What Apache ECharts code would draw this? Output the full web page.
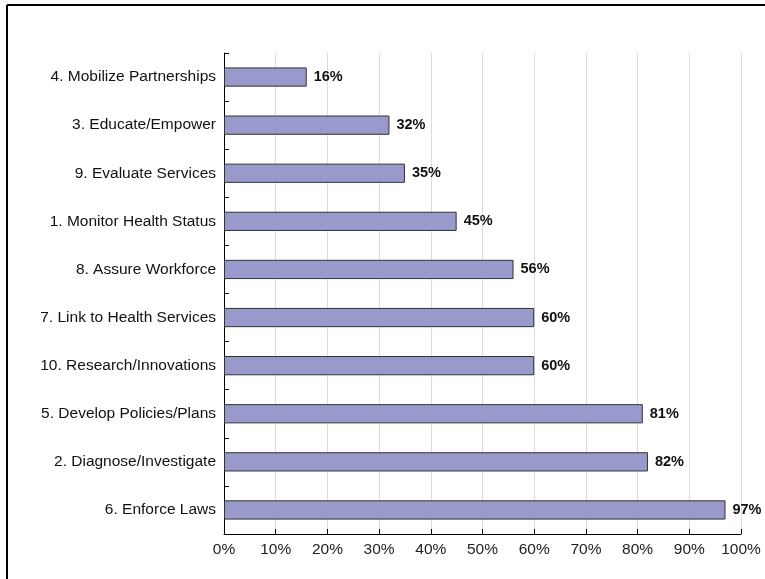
<!DOCTYPE html>
<html><head><meta charset="utf-8">
<script src="https://cdn.jsdelivr.net/npm/echarts@6/dist/echarts.min.js"></script>
<style>html,body{margin:0;padding:0;background:#fff}#c{width:765px;height:579px}</style>
</head><body><div id="c"></div>
<script>
const categories = ["4. Mobilize Partnerships","3. Educate/Empower","9. Evaluate Services","1. Monitor Health Status","8. Assure Workforce","7. Link to Health Services","10. Research/Innovations","5. Develop Policies/Plans","2. Diagnose/Investigate","6. Enforce Laws"];
const values = [16,32,35,45,56,60,60,81,82,97];
const xTicks = [0,10,20,30,40,50,60,70,80,90,100];

const chart = echarts.init(document.getElementById('c'));
chart.setOption({
  animation:false,
  textStyle:{fontFamily:'Liberation Sans, Arial, sans-serif'},
  grid:{left:224,right:24,top:53,bottom:45,containLabel:false},
  graphic:[
    {type:'line',shape:{x1:7,y1:5,x2:765,y2:5},style:{stroke:'#000',lineWidth:2}},
    {type:'line',shape:{x1:7,y1:5,x2:7,y2:579},style:{stroke:'#000',lineWidth:2}}
  ],
  xAxis:{type:'value',min:xTicks[0],max:xTicks[xTicks.length-1],interval:10,
    axisLine:{show:true,lineStyle:{color:'#000',width:1}},
    axisTick:{show:true,inside:true,length:5,lineStyle:{color:'#000'}},
    axisLabel:{formatter:'{value}%',color:'#222',fontSize:15.5,margin:8},
    splitLine:{show:true,lineStyle:{color:'#dcdcdc',width:1}}},
  yAxis:{type:'category',data:categories,inverse:true,
    axisLine:{show:true,lineStyle:{color:'#000',width:1}},
    axisTick:{show:true,inside:true,length:5,lineStyle:{color:'#000'}},
    axisLabel:{color:'#111',fontSize:15.5,margin:8}},
  series:[{type:'bar',data:values,barWidth:'40%',
    itemStyle:{color:'#9999cc',borderColor:'#333',borderWidth:1},
    label:{show:true,position:'right',formatter:'{c}%',fontWeight:'bold',fontSize:14.5,color:'#111',distance:7}}]
});
</script></body></html>
